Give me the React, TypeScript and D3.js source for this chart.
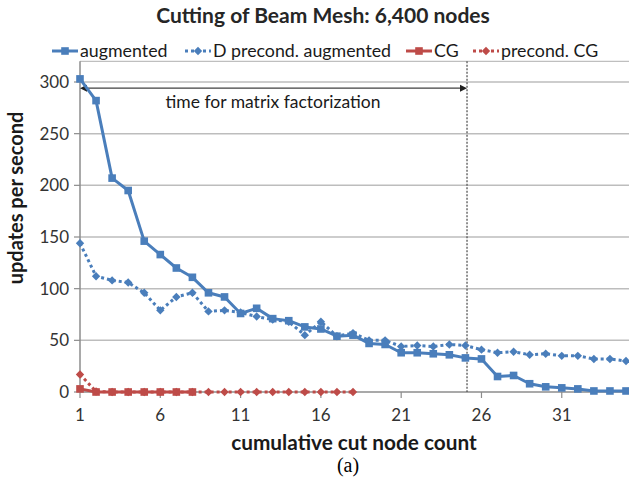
import React from "react";
import * as d3 from "d3";

const title = "Cutting of Beam Mesh: 6,400 nodes";
const xTicks = [1, 6, 11, 16, 21, 26, 31];
const yTicks = [0, 50, 100, 150, 200, 250, 300];
const augmented = [303, 282, 207, 195, 146, 133, 120, 111, 96, 92, 76, 81, 71, 69, 63, 61, 54, 55, 47, 46, 38, 38, 37, 36, 33, 32, 15, 16, 8, 5, 4, 3, 1, 1, 1];
const dPrecond = [144, 112, 108, 106, 96, 79, 92, 96, 78, 79, 77, 73, 70, 68, 55, 68, 54, 57, 50, 50, 44, 45, 44, 46, 45, 41, 38, 39, 36, 37, 35, 35, 32, 32, 30];
const cg = [3, 0, 0, 0, 0, 0, 0, 0];
const precondCG = [17, 0.5, 0, 0, 0, 0, 0, 0, 0, 0, 0, 0, 0, 0, 0, 0, 0, 0];
const factorizationAt = 25.1;
const arrowValue = 294;

const BLUE = "#4A7EBB";
const RED = "#BE4B48";
const FONT = "Lato, 'Open Sans', sans-serif";

const W = 629, H = 495;
const x = d3.scaleLinear().domain([1, 35]).range([80, 626]);
const y = d3.scaleLinear().domain([0, 300]).range([392, 82]);
const line = d3.line<number>().x((_, i) => x(i + 1)).y((d) => y(d));

function Square({ cx, cy, color }: { cx: number; cy: number; color: string }) {
  return <rect x={cx - 3.8} y={cy - 3.8} width={7.6} height={7.6} fill={color} />;
}
function Diamond({ cx, cy, color }: { cx: number; cy: number; color: string }) {
  const r = 4.2;
  return <path d={`M${cx},${cy - r}L${cx + r},${cy}L${cx},${cy + r}L${cx - r},${cy}Z`} fill={color} />;
}

function Series({ data, color, dotted, marker }: { data: number[]; color: string; dotted: boolean; marker: "sq" | "di" }) {
  return (
    <g>
      <path d={line(data) || ""} fill="none" stroke={color} strokeWidth={3}
        strokeDasharray={dotted ? "3 3" : undefined} strokeLinejoin="round" />
      {data.map((d, i) =>
        marker === "sq" ? <Square key={i} cx={x(i + 1)} cy={y(d)} color={color} />
          : <Diamond key={i} cx={x(i + 1)} cy={y(d)} color={color} />
      )}
    </g>
  );
}

function LegendItem({ lx, label, color, dotted, marker }: { lx: number; label: string; color: string; dotted: boolean; marker: "sq" | "di" }) {
  const ly = 51;
  return (
    <g>
      <line x1={lx} x2={lx + 26} y1={ly} y2={ly} stroke={color} strokeWidth={3} strokeDasharray={dotted ? "3 3" : undefined} />
      {marker === "sq" ? <Square cx={lx + 13} cy={ly} color={color} /> : <Diamond cx={lx + 13} cy={ly} color={color} />}
      <text x={lx + 28} y={ly + 6} fontSize={17.8} fill="#1a1a1a" fontFamily={FONT}>{label}</text>
    </g>
  );
}

export default function App() {
  const frameTop = y(320);
  const fx = x(factorizationAt);
  const ay = y(arrowValue);
  return (
    <div style={{ position: "absolute", left: 0, top: 0 }}>
      <svg width={W} height={H} style={{ display: "block", background: "#fff" }}>
        <rect width={W} height={H} fill="#fff" />
        <text x={323} y={23} textAnchor="middle" fontSize={21} fontWeight="bold" fill="#262626" fontFamily={FONT}>{title}</text>

        <LegendItem lx={52} label="augmented" color={BLUE} dotted={false} marker="sq" />
        <LegendItem lx={185} label="D precond. augmented" color={BLUE} dotted={true} marker="di" />
        <LegendItem lx={406} label="CG" color={RED} dotted={false} marker="sq" />
        <LegendItem lx={473} label="precond. CG" color={RED} dotted={true} marker="di" />

        <line x1={x(1)} x2={W} y1={frameTop} y2={frameTop} stroke="#bfbfbf" strokeWidth={1.2} />
        {yTicks.filter((t) => t > 0).map((t) => (
          <line key={t} x1={x(1)} x2={W} y1={y(t)} y2={y(t)} stroke="#bdbdbd" strokeWidth={1.5} />
        ))}
        <line x1={x(1)} x2={x(1)} y1={frameTop} y2={y(0)} stroke="#8c8c8c" strokeWidth={1.5} />
        <line x1={x(1)} x2={W} y1={y(0)} y2={y(0)} stroke="#8c8c8c" strokeWidth={1.5} />
        {yTicks.map((t) => (
          <g key={t}>
            <line x1={x(1) - 6} x2={x(1)} y1={y(t)} y2={y(t)} stroke="#8c8c8c" strokeWidth={1.2} />
            <text x={69} y={y(t) + 6} textAnchor="end" fontSize={17} fill="#333" fontFamily={FONT}>{t}</text>
          </g>
        ))}
        {xTicks.map((t) => (
          <g key={t}>
            <line x1={x(t)} x2={x(t)} y1={y(0)} y2={y(0) + 6} stroke="#8c8c8c" strokeWidth={1.2} />
            <text x={x(t)} y={421} textAnchor="middle" fontSize={17} fill="#333" fontFamily={FONT}>{t}</text>
          </g>
        ))}

        <line x1={fx} x2={fx} y1={frameTop} y2={y(0)} stroke="#555" strokeWidth={1.3} strokeDasharray="2 1.5" />
        <line x1={x(1) + 4} x2={fx - 4} y1={ay} y2={ay} stroke="#404040" strokeWidth={1.2} />
        <path d={`M${x(1)},${ay}l7,-3.5v7z`} fill="#202020" />
        <path d={`M${fx},${ay}l-7,-3.5v7z`} fill="#202020" />
        <text x={273} y={108} textAnchor="middle" fontSize={17.5} fill="#1a1a1a" fontFamily={FONT}>time for matrix factorization</text>

        <Series data={precondCG} color={RED} dotted={true} marker="di" />
        <Series data={cg} color={RED} dotted={false} marker="sq" />
        <Series data={dPrecond} color={BLUE} dotted={true} marker="di" />
        <Series data={augmented} color={BLUE} dotted={false} marker="sq" />

        <text transform={`translate(23,198) rotate(-90)`} textAnchor="middle" fontSize={20} fontWeight="bold" fill="#1a1a1a" fontFamily={FONT}>updates per second</text>
        <text x={354} y={450} textAnchor="middle" fontSize={20.8} fontWeight="bold" fill="#1a1a1a" fontFamily={FONT}>cumulative cut node count</text>
        <text x={348} y={472} textAnchor="middle" fontSize={20} fill="#000" fontFamily="'Liberation Serif', 'DejaVu Serif', serif">(a)</text>
      </svg>
    </div>
  );
}
